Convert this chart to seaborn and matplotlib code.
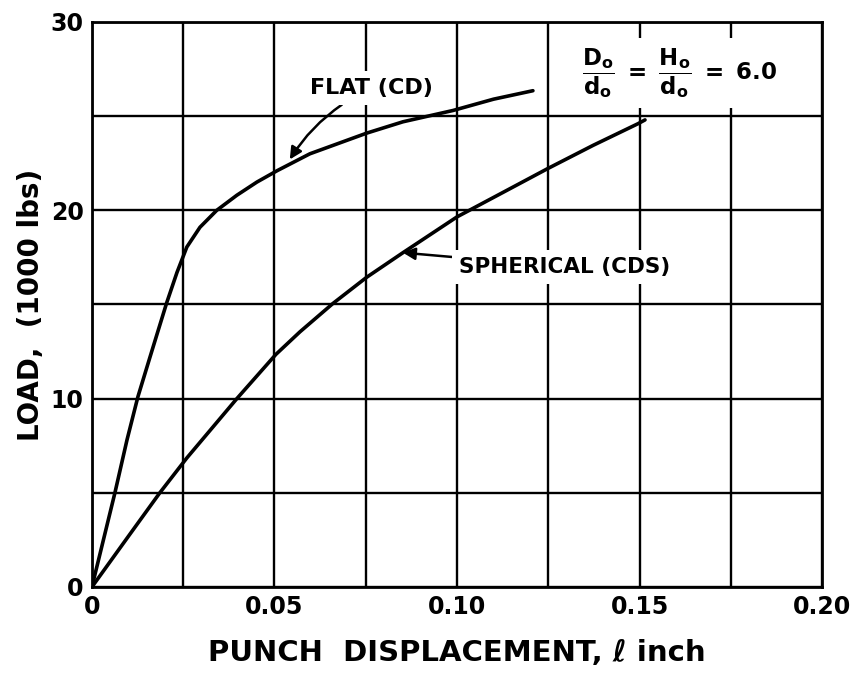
import matplotlib
matplotlib.use("Agg")
import matplotlib.pyplot as plt
import numpy as np
import pandas as pd
import seaborn as sns

# values (displacement in inch, load in 1000 lbs)
flat_x = [0.0, 0.0063, 0.0096, 0.0126, 0.0159, 0.0178, 0.0205, 0.0233, 0.026,
          0.0296, 0.0342, 0.0397, 0.0452, 0.0507, 0.0597, 0.0753, 0.0852, 0.0989, 0.110, 0.1208]
flat_y = [0.0, 5.0, 7.8, 10.1, 12.2, 13.4, 15.1, 16.7, 18.05,
          19.1, 20.0, 20.8, 21.5, 22.1, 23.0, 24.1, 24.7, 25.3, 25.9, 26.35]

sph_x = [0.0, 0.0104, 0.0186, 0.026, 0.0397, 0.0504, 0.057, 0.066, 0.0753, 0.0852,
         0.100, 0.1126, 0.1247, 0.1373, 0.1496, 0.1515]
sph_y = [0.0, 2.8, 5.0, 6.85, 10.0, 12.35, 13.55, 15.05, 16.45, 17.75,
         19.65, 20.95, 22.2, 23.45, 24.6, 24.8]

x_ticks = [0, 0.05, 0.10, 0.15, 0.20]
x_tick_labels = ["0", "0.05", "0.10", "0.15", "0.20"]
y_ticks = [0, 10, 20, 30]
y_tick_labels = ["0", "10", "20", "30"]

df = pd.concat([
    pd.DataFrame({"disp": flat_x, "load": flat_y, "punch": "FLAT (CD)"}),
    pd.DataFrame({"disp": sph_x, "load": sph_y, "punch": "SPHERICAL (CDS)"}),
])

sns.set_style("white")
plt.rcParams["font.family"] = ["DejaVu Sans"]
plt.rcParams["text.color"] = "black"
plt.rcParams["axes.labelcolor"] = "black"
plt.rcParams["xtick.color"] = "black"
plt.rcParams["ytick.color"] = "black"

fig = plt.figure(figsize=(8.59, 6.76), dpi=100)
ax = fig.add_axes([0.107, 0.1317, 0.85, 0.8358])

sns.lineplot(data=df, x="disp", y="load", units="punch", estimator=None, sort=False,
             color="black", linewidth=2.6, ax=ax, zorder=4)

ax.set_xlim(0, 0.20)
ax.set_ylim(0, 30)
ax.set_xticks(x_ticks)
ax.set_xticks(np.arange(0, 0.2001, 0.025), minor=True)
ax.set_yticks(y_ticks)
ax.set_yticks(np.arange(0, 30.01, 5), minor=True)
ax.set_xticklabels(x_tick_labels, fontsize=17, fontweight="bold")
ax.set_yticklabels(y_tick_labels, fontsize=17, fontweight="bold")
ax.tick_params(which="both", length=0, pad=6)
ax.grid(True, which="both", color="black", linewidth=1.7)
ax.set_axisbelow(True)
for s in ax.spines.values():
    s.set_color("black")
    s.set_linewidth(2)

ax.set_xlabel("PUNCH  DISPLACEMENT, \u2113 inch", fontsize=21, fontweight="bold", labelpad=14)
ax.set_ylabel("LOAD,  (1000 lbs)", fontsize=20, fontweight="bold", labelpad=4)

ax.annotate("FLAT (CD)", xy=(0.0542, 22.7), xytext=(0.0598, 26.5),
            fontsize=16, fontweight="bold", va="center", ha="left", zorder=5,
            bbox=dict(facecolor="white", edgecolor="none", pad=5),
            arrowprops=dict(arrowstyle="-|>", color="black", lw=1.8, shrinkA=0, shrinkB=0,
                            connectionstyle="arc3,rad=0.15", mutation_scale=18))
ax.annotate("SPHERICAL (CDS)", xy=(0.0852, 17.75), xytext=(0.1005, 17.0),
            fontsize=15.5, fontweight="bold", va="center", ha="left", zorder=5,
            bbox=dict(facecolor="white", edgecolor="none", pad=5),
            arrowprops=dict(arrowstyle="-|>", color="black", lw=1.8, shrinkA=0, shrinkB=0,
                            mutation_scale=18))
ax.text(0.161, 27.3,
        r"$\dfrac{\mathbf{D_o}}{\mathbf{d_o}}\ \mathbf{=}\ \dfrac{\mathbf{H_o}}{\mathbf{d_o}}\ \mathbf{=\ 6.0}$",
        fontsize=16.5, ha="center", va="center", zorder=5,
        bbox=dict(facecolor="white", edgecolor="none", pad=6))

fig.savefig("out.png", dpi=100)
